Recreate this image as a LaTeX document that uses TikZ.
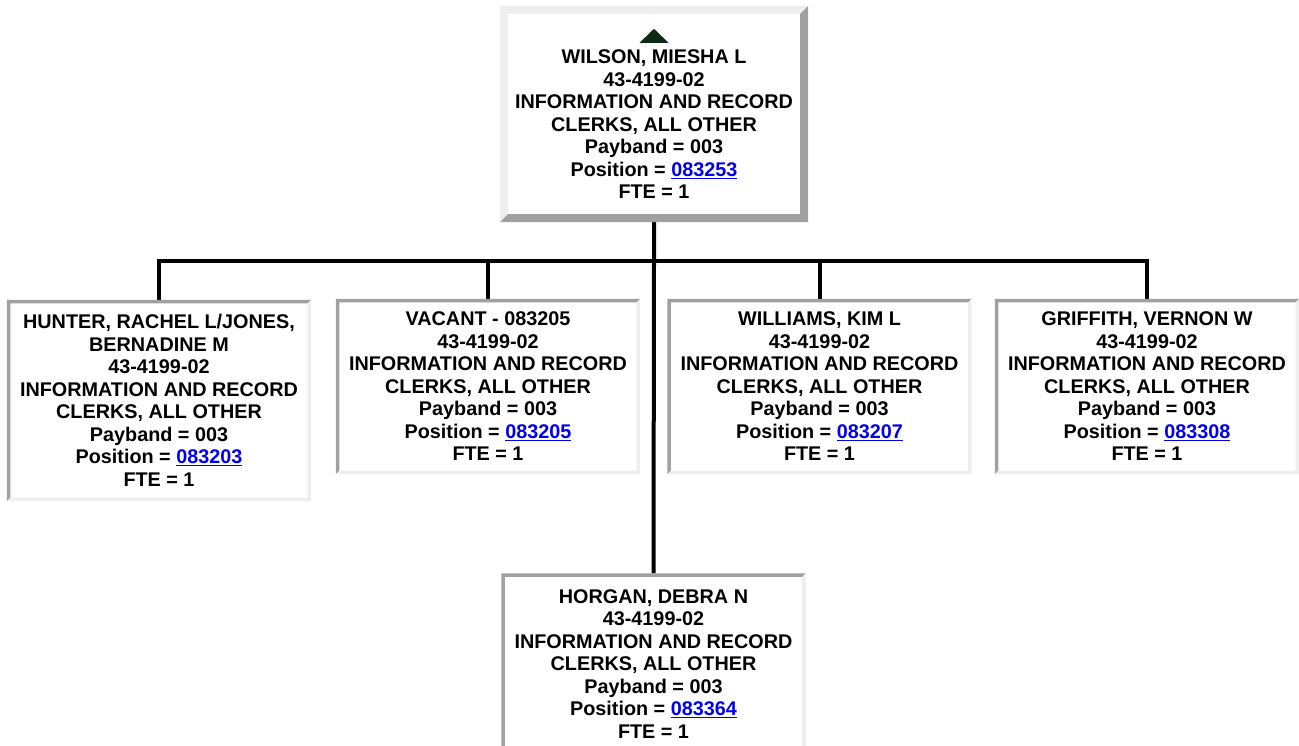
\documentclass[tikz,border=0pt]{standalone}
\usepackage{fontspec}
\setmainfont{Liberation Sans}
\usetikzlibrary{calc}
\definecolor{edgedark}{HTML}{A0A0A0}
\definecolor{edgelight}{HTML}{EEEEEE}
\definecolor{linkblue}{HTML}{0000EE}
\definecolor{uparrow}{HTML}{0B2B14}
\newcommand{\poslink}[1]{\textcolor{linkblue}{\underline{#1}}}

\begin{document}
\begin{tikzpicture}[x=1pt,y=-1pt]
  \tikzstyle{card}=[inner sep=0pt,minimum width=304pt,minimum height=175pt,
    align=center,font=\bfseries\fontsize{19.8}{22.5}\selectfont]
  \tikzstyle{wire}=[line width=4pt,black]
  \useasboundingbox (0,0) rectangle (1299,746);

  \node[card,minimum width=308pt,minimum height=216pt] (wilson) at (654,114)
    {\rule{0pt}{35pt}WILSON, MIESHA L\\43-4199-02\\INFORMATION AND RECORD\\CLERKS, ALL OTHER\\
     Payband = 003\\Position = \poslink{083253}\\FTE = 1};

  \node[card,minimum height=201pt] (hunter) at (159,400.5)
    {HUNTER, RACHEL L/JONES,\\BERNADINE M\\43-4199-02\\INFORMATION AND RECORD\\CLERKS, ALL OTHER\\
     Payband = 003\\Position = \poslink{083203}\\FTE = 1};
  \node[card] (vacant) at (488,386.5)
    {VACANT - 083205\\43-4199-02\\INFORMATION AND RECORD\\CLERKS, ALL OTHER\\
     Payband = 003\\Position = \poslink{083205}\\FTE = 1};
  \node[card] (williams) at (819.5,386.5)
    {WILLIAMS, KIM L\\43-4199-02\\INFORMATION AND RECORD\\CLERKS, ALL OTHER\\
     Payband = 003\\Position = \poslink{083207}\\FTE = 1};
  \node[card] (griffith) at (1147,386.5)
    {GRIFFITH, VERNON W\\43-4199-02\\INFORMATION AND RECORD\\CLERKS, ALL OTHER\\
     Payband = 003\\Position = \poslink{083308}\\FTE = 1};
  \node[card,minimum height=181pt] (horgan) at (653.5,664)
    {HORGAN, DEBRA N\\43-4199-02\\INFORMATION AND RECORD\\CLERKS, ALL OTHER\\
     Payband = 003\\Position = \poslink{083364}\\FTE = 1};

  % connectors
  \coordinate (bus) at (wilson.south |- 0,261);
  \draw[wire] (wilson.south) -- (bus) -- (horgan.north);
  \draw[wire] (hunter.north) -- (hunter.north |- bus) -- (griffith.north |- bus) -- (griffith.north);
  \draw[wire] (vacant.north |- bus) -- (vacant.north);
  \draw[wire] (williams.north |- bus) -- (williams.north);

  % raised frame of the top box
  \fill[edgelight] (wilson.south west) |- (wilson.north east) -- ++(-8,8)
    -| ($(wilson.south west)+(8,-8)$) -- cycle;
  \fill[edgedark] (wilson.south west) -| (wilson.north east) -- ++(-8,8)
    |- ($(wilson.south west)+(8,-8)$) -- cycle;
  \fill[uparrow] ($(wilson.north)+(-14.5,37)$) -- ($(wilson.north)+(14.5,37)$)
    -- ($(wilson.north)+(0,23)$) -- cycle;

  % sunken frames of the child boxes
  \foreach \b in {hunter,vacant,williams,griffith,horgan}{
    \fill[edgedark] (\b.south west) |- (\b.north east) -- ++(-3.5,3.5)
      -| ($(\b.south west)+(3.5,-3.5)$) -- cycle;
    \fill[edgelight] (\b.south west) -| (\b.north east) -- ++(-3.5,3.5)
      |- ($(\b.south west)+(3.5,-3.5)$) -- cycle;
  }
\end{tikzpicture}
\end{document}
